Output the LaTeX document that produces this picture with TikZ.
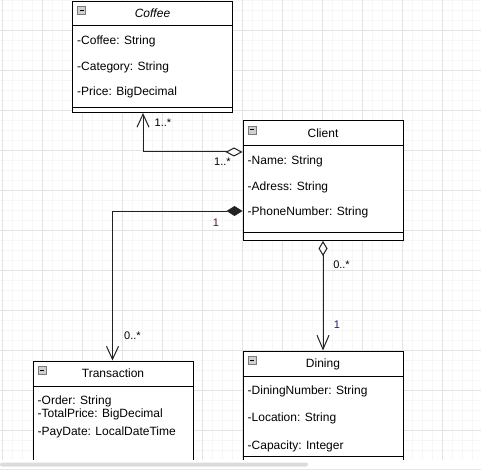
\documentclass[tikz,border=0pt]{standalone}
\usepackage{fontspec}
\setmainfont{Liberation Sans}
\usetikzlibrary{arrows.meta,calc}
\definecolor{gridmajor}{HTML}{E3E3E3}
\definecolor{gridminor}{HTML}{F6F6F6}
\definecolor{iconfill}{HTML}{D0D0D0}
\definecolor{iconedge}{HTML}{7A7A7A}
\definecolor{connline}{HTML}{222222}
\definecolor{multred}{HTML}{6A1010}
\definecolor{multblue}{HTML}{2A1670}
\definecolor{scrollthumb}{HTML}{DCDCDC}
\definecolor{scrollline}{HTML}{E6E6E6}
\tikzset{
  umlbox/.style={draw=black, line width=1pt, fill=white, minimum width=160pt, inner sep=0pt, anchor=north west},
  iconbox/.style={draw=iconedge, line width=0.7pt, fill=iconfill, minimum width=8pt, minimum height=8pt, inner sep=0pt,
    path picture={\draw[black, line width=1pt] ($(path picture bounding box.west)+(2,0)$) -- ($(path picture bounding box.east)+(-2,0)$);}},
  title/.style={inner sep=0pt, font=\fontsize{12}{14}\selectfont, text height=9pt, text depth=2.5pt},
  attr/.style={anchor=west, inner sep=0pt, font=\fontsize{12}{14}\selectfont, text height=9pt, text depth=2.5pt},
  mult/.style={inner sep=0pt, font=\fontsize{11}{13}\selectfont, text height=8pt, text depth=0pt},
  conn/.style={draw=connline, line width=1pt},
}
\begin{document}
\begin{tikzpicture}[x=1pt, y=-1pt]
\useasboundingbox (0,0) rectangle (481,470);
\clip (0,0) rectangle (481,470);
\fill[white] (0,0) rectangle (481,470);
% grid
\foreach \gx in {2,12,...,482} \draw[gridminor, line width=0.8pt] (\gx,0) -- (\gx,460);
\foreach \gy in {0.5,10.5,...,460} \draw[gridminor, line width=0.8pt] (0,\gy) -- (481,\gy);
\foreach \gx in {2,42,...,482} \draw[gridmajor, line width=0.8pt] (\gx,0) -- (\gx,460);
\foreach \gy in {30.5,70.5,...,460} \draw[gridmajor, line width=0.8pt] (0,\gy) -- (481,\gy);

% Coffee
\node[umlbox, minimum height=111pt] (coffee) at (72,1) {};
\draw[line width=1pt] ($(coffee.north west)+(0,25)$) -- ($(coffee.north east)+(0,25)$);
\draw[line width=1pt] ($(coffee.north west)+(0,107)$) -- ($(coffee.north east)+(0,107)$);
\node[iconbox] (coffeeicon) at ($(coffee.north west)+(9.5,9.5)$) {};
\node[title] (coffeetitle) at ($(coffee.north)+(0,13.3)$) {\itshape Coffee};
\node[attr] (coffeea1) at (77,40.8) {-Coffee: String};
\node[attr] (coffeea2) at (77,66.8) {-Category: String};
\node[attr] (coffeea3) at (77,91.8) {-Price: BigDecimal};

% Client
\node[umlbox, minimum height=119.5pt] (client) at (242.5,120.5) {};
\draw[line width=1pt] ($(client.north west)+(0,25.5)$) -- ($(client.north east)+(0,25.5)$);
\draw[line width=1pt] ($(client.north west)+(0,112)$) -- ($(client.north east)+(0,112)$);
\node[iconbox] (clienticon) at ($(client.north west)+(9.5,9.5)$) {};
\node[title] (clienttitle) at ($(client.north)+(0,13.3)$) {Client};
\node[attr] (clienta1) at (247.5,160.8) {-Name: String};
\node[attr] (clienta2) at (247.5,186.8) {-Adress: String};
\node[attr] (clienta3) at (247.5,211.8) {-PhoneNumber: String};

% Transaction
\node[umlbox, minimum height=120pt] (transaction) at (32.5,360.5) {};
\draw[line width=1pt] ($(transaction.north west)+(0,25.5)$) -- ($(transaction.north east)+(0,25.5)$);
\node[iconbox] (transicon) at ($(transaction.north west)+(9.5,9.5)$) {};
\node[title] (transtitle) at ($(transaction.north)+(0,13.8)$) {Transaction};
\node[attr] (transa1) at (37.5,400.8) {-Order: String};
\node[attr] (transa2) at (37.5,413.8) {-TotalPrice: BigDecimal};
\node[attr] (transa3) at (37.5,431.8) {-PayDate: LocalDateTime};

% Dining
\node[umlbox, minimum height=130pt] (dining) at (242.5,350.5) {};
\draw[line width=1pt] ($(dining.north west)+(0,25.5)$) -- ($(dining.north east)+(0,25.5)$);
\draw[line width=1pt] ($(dining.north west)+(0,105.5)$) -- ($(dining.north east)+(0,105.5)$);
\node[iconbox] (diningicon) at ($(dining.north west)+(9.5,9.5)$) {};
\node[title] (diningtitle) at ($(dining.north)+(0,13.3)$) {Dining};
\node[attr] (dininga1) at (247.5,390.8) {-DiningNumber: String};
\node[attr] (dininga2) at (247.5,418.3) {-Location: String};
\node[attr] (dininga3) at (247.5,446.3) {-Capacity: Integer};

% connectors
\coordinate (clientagg) at ($(client.north west)+(0,31.5)$);
\coordinate (coffeein) at ($(coffee.south west)+(71,0)$);
\draw[conn, {Diamond[open, fill=white, length=17pt, width=9pt]}-{Straight Barb[length=13pt, width=12pt]}] (clientagg) -| (coffeein);

\coordinate (clientcomp) at ($(client.north west)+(0,90.5)$);
\coordinate (transin) at ($(transaction.north west)+(80,0)$);
\draw[conn, {Diamond[length=16pt, width=10pt]}-{Straight Barb[length=13pt, width=12pt]}] (clientcomp) -| (transin);

\draw[conn, {Diamond[open, fill=white, length=15pt, width=9pt]}-{Straight Barb[length=14pt, width=12pt]}] (client.south) -- (dining.north);

% multiplicities
\node[mult] (m1) at (163,123) {1..*};
\node[mult] (m2) at (222.5,162) {1..*};
\node[mult, text=multred] (m3) at (216,222.5) {1};
\node[mult] (m4) at (132.5,335.5) {0..*};
\node[mult] (m5) at (341.5,264) {0..*};
\node[mult, text=multblue] (m6) at (337,324) {1};

% scroll bar
\fill[white] (0,460) rectangle (481,470);
\fill[scrollthumb, rounded corners=2pt] (0,462.5) rectangle (308,466.5);
\draw[scrollline, line width=0.8pt] (0,469.3) -- (481,469.3);
\end{tikzpicture}
\end{document}
